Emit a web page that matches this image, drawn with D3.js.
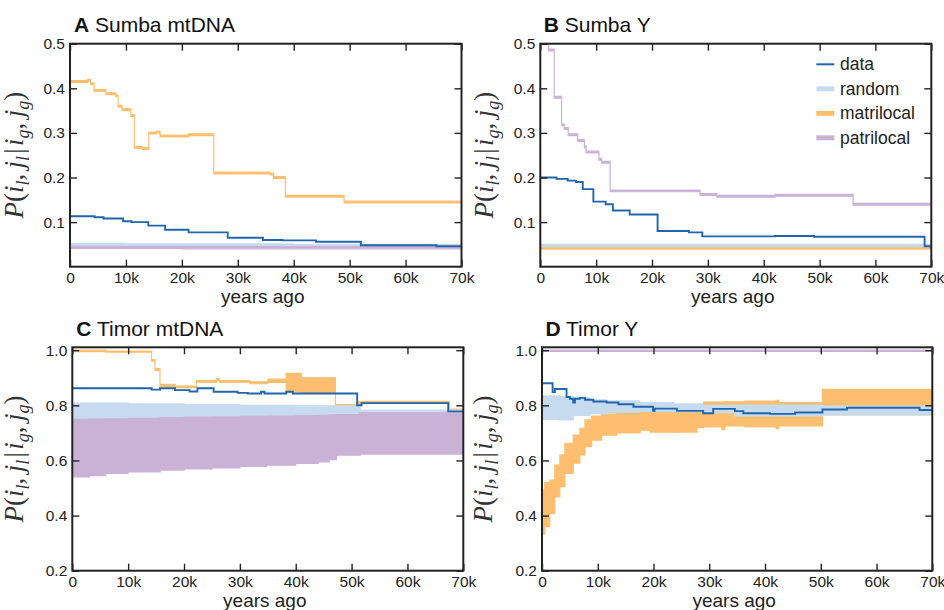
<!DOCTYPE html>
<html><head><meta charset="utf-8">
<script src="https://cdn.jsdelivr.net/npm/d3@7"></script>
<style>body{margin:0;background:#fff} svg{display:block}</style>
</head><body>
<svg id="chart" width="944" height="610"></svg>
<script>
// ---------- axis / legend text ----------
const xTickValues = [0, 10, 20, 30, 40, 50, 60, 70];           // thousand years ago
const xTickLabels = ["0", "10k", "20k", "30k", "40k", "50k", "60k", "70k"];
const yTicksSumba = [0.1, 0.2, 0.3, 0.4, 0.5];
const yTicksTimor = [0.2, 0.4, 0.6, 0.8, 1.0];
const legendLabels = ["data", "random", "matrilocal", "patrilocal"];
const panelLetters = ["A", "B", "C", "D"];
const panelNames = ["Sumba mtDNA", "Sumba Y", "Timor mtDNA", "Timor Y"];

// ---------- Panel A: Sumba mtDNA ----------
const A_data_x = [0, 4.4, 6, 9.5, 11, 14, 17, 21.2, 28.2, 34.5, 38, 44, 52, 65.5, 70];
const A_data_y = [0.113, 0.111, 0.108, 0.102, 0.100, 0.092, 0.083, 0.077, 0.065, 0.060, 0.059, 0.056, 0.048, 0.046, 0.046];
const A_rand_x = [0, 10, 20, 40, 70];
const A_rand_lo = [0.044, 0.044, 0.044, 0.044, 0.044];
const A_rand_hi = [0.052, 0.051, 0.051, 0.050, 0.050];
const A_mat_x = [0, 0.05, 3.1, 3.7, 4.3, 6.4, 8.2, 8.6, 9.3, 10.9, 11.5, 12.9, 14.1, 15.5, 16.1, 21.2, 25.7, 35.8, 36.4, 38.5, 49, 70];
const A_mat_lo = [0.497, 0.413, 0.416, 0.408, 0.393, 0.386, 0.381, 0.358, 0.350, 0.337, 0.266, 0.263, 0.298, 0.300, 0.291, 0.294, 0.208, 0.206, 0.198, 0.156, 0.143, 0.143];
const A_mat_hi = [0.500, 0.417, 0.420, 0.412, 0.397, 0.390, 0.385, 0.362, 0.354, 0.341, 0.270, 0.267, 0.302, 0.304, 0.295, 0.298, 0.212, 0.210, 0.202, 0.160, 0.147, 0.147];
const A_pat_x = [0, 20, 70];
const A_pat_lo = [0.041, 0.040, 0.041];
const A_pat_hi = [0.045, 0.045, 0.045];

// ---------- Panel B: Sumba Y ----------
const B_data_x = [0, 2.9, 4.9, 6.4, 7.6, 9.5, 11.7, 13, 16, 21, 26.6, 29, 42, 49, 68.8, 70];
const B_data_y = [0.200, 0.197, 0.193, 0.190, 0.174, 0.146, 0.140, 0.126, 0.117, 0.080, 0.077, 0.068, 0.069, 0.067, 0.046, 0.046];
const B_rand_x = [0, 70];
const B_rand_lo = [0.045, 0.045];
const B_rand_hi = [0.050, 0.050];
const B_mat_x = [0, 70];
const B_mat_lo = [0.0395, 0.0395];
const B_mat_hi = [0.045, 0.045];
const B_pat_x = [0, 1.5, 2.5, 3.8, 4.3, 5, 6.7, 7.9, 8.2, 10.5, 11, 12.5, 28.6, 31.6, 42, 56, 70];
const B_pat_lo = [0.498, 0.484, 0.378, 0.316, 0.308, 0.294, 0.281, 0.267, 0.255, 0.239, 0.232, 0.168, 0.160, 0.156, 0.158, 0.138, 0.138];
const B_pat_hi = [0.502, 0.488, 0.382, 0.320, 0.312, 0.298, 0.285, 0.271, 0.259, 0.243, 0.236, 0.172, 0.164, 0.160, 0.162, 0.142, 0.142];

// ---------- Panel C: Timor mtDNA ----------
const C_data_x = [0, 14.2, 15.7, 18.4, 21, 22.4, 25.3, 29.6, 31.4, 33.8, 34.4, 38.3, 39.5, 51, 51.8, 67.3, 70];
const C_data_y = [0.862, 0.857, 0.862, 0.855, 0.850, 0.862, 0.849, 0.845, 0.843, 0.849, 0.843, 0.849, 0.843, 0.800, 0.808, 0.778, 0.778];
const C_rand_x = [0, 10, 20, 30, 40, 51.5, 70];
const C_rand_lo = [0.745, 0.748, 0.752, 0.755, 0.758, 0.766, 0.766];
const C_rand_hi = [0.808, 0.805, 0.803, 0.800, 0.798, 0.783, 0.782];
const C_mat_x = [0, 6, 14.2, 14.8, 15.7, 18.4, 22.2, 25.8, 26.3, 31.8, 35, 38.3, 41, 47.1, 51.1, 51.7, 67.5, 70];
const C_mat_lo = [0.995, 0.993, 0.960, 0.927, 0.869, 0.864, 0.884, 0.890, 0.884, 0.879, 0.883, 0.849, 0.846, 0.797, 0.807, 0.808, 0.780, 0.780];
const C_mat_hi = [1.000, 0.997, 0.966, 0.933, 0.876, 0.870, 0.890, 0.897, 0.890, 0.885, 0.895, 0.916, 0.900, 0.803, 0.813, 0.814, 0.786, 0.786];
const C_pat_x = [0, 3, 6, 10, 15.7, 20, 25, 30, 34.8, 40, 44, 46, 47.3, 51.5, 70];
const C_pat_lo = [0.540, 0.545, 0.553, 0.558, 0.565, 0.569, 0.573, 0.578, 0.583, 0.589, 0.595, 0.603, 0.619, 0.623, 0.624];
const C_pat_hi = [0.749, 0.750, 0.751, 0.753, 0.755, 0.757, 0.758, 0.760, 0.761, 0.763, 0.764, 0.765, 0.766, 0.773, 0.773];

// ---------- Panel D: Timor Y ----------
const D_data_x = [0, 1.9, 2.3, 4.4, 5, 5.6, 5.9, 6.8, 7.7, 9.2, 11.6, 13.7, 16.4, 19.9, 20.2, 24.2, 28.9, 30.7, 34.6, 36.1, 40.9, 45.4, 50.3, 54.7, 67.7, 70];
const D_data_y = [0.880, 0.848, 0.859, 0.830, 0.824, 0.810, 0.824, 0.827, 0.820, 0.814, 0.810, 0.804, 0.795, 0.780, 0.788, 0.780, 0.771, 0.787, 0.779, 0.771, 0.769, 0.774, 0.785, 0.791, 0.783, 0.783];
const D_rand_x = [0, 3.2, 5.6, 8.6, 11.6, 17.5, 23.6, 29, 34.6, 50.3, 70];
const D_rand_lo = [0.749, 0.747, 0.763, 0.770, 0.774, 0.777, 0.777, 0.773, 0.762, 0.765, 0.765];
const D_rand_hi = [0.834, 0.832, 0.827, 0.820, 0.816, 0.810, 0.805, 0.800, 0.801, 0.797, 0.797];
const D_mat_x = [0, 0.5, 1.4, 2.3, 3.2, 4.1, 5.6, 6.8, 7.7, 8.9, 10.7, 13.4, 17.6, 19.4, 25.3, 27.8, 29, 32.3, 32.8, 36.4, 42, 42.5, 50.3, 70];
const D_mat_lo = [0.333, 0.360, 0.408, 0.468, 0.505, 0.553, 0.590, 0.620, 0.650, 0.674, 0.692, 0.700, 0.710, 0.703, 0.703, 0.719, 0.722, 0.712, 0.725, 0.722, 0.715, 0.725, 0.765, 0.765];
const D_mat_hi = [0.493, 0.520, 0.529, 0.583, 0.620, 0.662, 0.692, 0.716, 0.747, 0.761, 0.768, 0.774, 0.774, 0.776, 0.785, 0.800, 0.812, 0.813, 0.813, 0.815, 0.818, 0.810, 0.858, 0.858];
const D_pat_x = [0, 70];
const D_pat_lo = [0.996, 0.996];
const D_pat_hi = [1.000, 1.000];

// ---------- styling / layout ----------
const colors = { data: "#2166ac", random: "#c6dbef", matrilocal: "#fdbf6f", patrilocal: "#cab2d6" };
const ink = "#222";
const sans = "'Liberation Sans', Arial, Helvetica, sans-serif";
const serif = "'Liberation Serif', 'Times New Roman', serif";

const zip3 = (xs, lo, hi) => xs.map((x, i) => ({ x, lo: lo[i], hi: hi[i] }));
const zip2 = (xs, ys) => xs.map((x, i) => ({ x, y: ys[i] }));

const panels = [
  { left: 70, top: 43.7, w: 391.5, h: 223, yDomain: [0, 0.5], yTicks: yTicksSumba,
    rand: zip3(A_rand_x, A_rand_lo, A_rand_hi), mat: zip3(A_mat_x, A_mat_lo, A_mat_hi),
    pat: zip3(A_pat_x, A_pat_lo, A_pat_hi), data: zip2(A_data_x, A_data_y), labelX: 23 },
  { left: 540.3, top: 43.7, w: 391, h: 223, yDomain: [0, 0.5], yTicks: yTicksSumba,
    rand: zip3(B_rand_x, B_rand_lo, B_rand_hi), mat: zip3(B_mat_x, B_mat_lo, B_mat_hi),
    pat: zip3(B_pat_x, B_pat_lo, B_pat_hi), data: zip2(B_data_x, B_data_y), labelX: 493, legend: true },
  { left: 72.3, top: 347.3, w: 391, h: 223.4, yDomain: [0.2, 1.0105], yTicks: yTicksTimor,
    rand: zip3(C_rand_x, C_rand_lo, C_rand_hi), mat: zip3(C_mat_x, C_mat_lo, C_mat_hi),
    pat: zip3(C_pat_x, C_pat_lo, C_pat_hi), data: zip2(C_data_x, C_data_y), labelX: 23 },
  { left: 542, top: 347.3, w: 390.3, h: 223.4, yDomain: [0.2, 1.0105], yTicks: yTicksTimor,
    rand: zip3(D_rand_x, D_rand_lo, D_rand_hi), mat: zip3(D_mat_x, D_mat_lo, D_mat_hi),
    pat: zip3(D_pat_x, D_pat_lo, D_pat_hi), data: zip2(D_data_x, D_data_y), labelX: 492 }
];

const svg = d3.select("#chart");

panels.forEach((p, pi) => {
  const x = d3.scaleLinear().domain([0, 70]).range([0, p.w]);
  const y = d3.scaleLinear().domain(p.yDomain).range([p.h, 0]);
  const g = svg.append("g").attr("transform", `translate(${p.left},${p.top})`);

  const clipId = "clip" + pi;
  g.append("clipPath").attr("id", clipId).append("rect")
    .attr("x", 0).attr("y", 0).attr("width", p.w).attr("height", p.h);
  const plot = g.append("g").attr("clip-path", `url(#${clipId})`);

  const area = d3.area().curve(d3.curveStepAfter)
    .x(d => x(d.x)).y0(d => y(d.lo)).y1(d => y(d.hi));
  const line = d3.line().curve(d3.curveStepAfter).x(d => x(d.x)).y(d => y(d.y));

  [["mat", colors.matrilocal], ["rand", colors.random], ["pat", colors.patrilocal]].forEach(([k, c]) => {
    plot.append("path").datum(p[k]).attr("d", area)
      .attr("fill", c).attr("stroke", c).attr("stroke-width", 1.2).attr("stroke-linejoin", "miter");
  });
  plot.append("path").datum(p.data).attr("d", line)
    .attr("fill", "none").attr("stroke", colors.data).attr("stroke-width", 1.9);

  // axes with inward ticks on all four sides
  const styleAxis = sel => {
    sel.select(".domain").remove();
    sel.selectAll(".tick line").attr("stroke", ink).attr("stroke-width", 1.4);
    sel.selectAll(".tick text").attr("fill", ink).style("font-family", sans).style("font-size", "15.5px");
  };
  g.append("g").attr("transform", `translate(0,${p.h})`)
    .call(d3.axisBottom(x).tickValues(xTickValues).tickFormat((d, i) => xTickLabels[i])
      .tickSizeInner(-7).tickSizeOuter(0).tickPadding(5))
    .call(styleAxis);
  g.append("g")
    .call(d3.axisTop(x).tickValues(xTickValues).tickFormat("").tickSizeInner(-7).tickSizeOuter(0))
    .call(styleAxis);
  g.append("g")
    .call(d3.axisLeft(y).tickValues(p.yTicks).tickFormat(d3.format(".1f"))
      .tickSizeInner(-7).tickSizeOuter(0).tickPadding(5))
    .call(styleAxis);
  g.append("g").attr("transform", `translate(${p.w},0)`)
    .call(d3.axisRight(y).tickValues(p.yTicks).tickFormat("").tickSizeInner(-7).tickSizeOuter(0))
    .call(styleAxis);

  // frame
  g.append("rect").attr("x", 0).attr("y", 0).attr("width", p.w).attr("height", p.h)
    .attr("fill", "none").attr("stroke", ink).attr("stroke-width", 2);

  // title
  const t = svg.append("text").attr("x", p.left + (pi % 2 === 0 ? 4 : 3.4))
    .attr("y", p.top - 11.4).style("font-family", sans).style("font-size", "21px").attr("fill", "#111");
  t.append("tspan").attr("font-weight", "bold").text(panelLetters[pi]);
  t.append("tspan").text(" " + panelNames[pi]);

  // x label
  svg.append("text").attr("x", p.left + p.w / 2 - 3).attr("y", p.top + p.h + 36)
    .attr("text-anchor", "middle").style("font-family", sans).style("font-size", "19px")
    .attr("fill", ink).text("years ago");

  // y label: P(i_l, j_l | i_g, j_g)
  const yl = svg.append("text")
    .attr("transform", `translate(${p.labelX},${p.top + p.h / 2}) rotate(-90)`)
    .attr("text-anchor", "middle").style("font-family", serif).style("font-size", "27px")
    .attr("fill", "#333");
  const parts = [
    ["P", "i"], ["(", "n"], ["i", "i"], ["l", "s"], [",", "n"], ["\u2009j", "i"], ["l", "s"],
    ["\u200a|\u200a", "n"], ["i", "i"], ["g", "s"], [",", "n"], ["\u2009j", "i"], ["g", "s"], [")", "n"]
  ];
  let sub = false;
  parts.forEach(([txt, kind]) => {
    const ts = yl.append("tspan").text(txt);
    if (kind === "s") {
      ts.attr("font-style", "italic").style("font-size", "18px");
      if (!sub) { ts.attr("dy", 5.5); sub = true; }
    } else {
      ts.attr("font-style", kind === "i" ? "italic" : "normal");
      if (sub) { ts.attr("dy", -5.5); sub = false; }
    }
  });

  // legend
  if (p.legend) {
    const keys = ["data", "random", "matrilocal", "patrilocal"];
    keys.forEach((k, i) => {
      const ly = 64.3 + i * 24.5;
      svg.append("line").attr("x1", 816.3).attr("x2", 834.3).attr("y1", ly).attr("y2", ly)
        .attr("stroke", colors[k]).attr("stroke-width", k === "data" ? 2 : 5);
      svg.append("text").attr("x", 840).attr("y", ly + 6).style("font-family", sans)
        .style("font-size", "17.5px").attr("fill", ink).text(legendLabels[i]);
    });
  }
});
</script>
</body></html>
